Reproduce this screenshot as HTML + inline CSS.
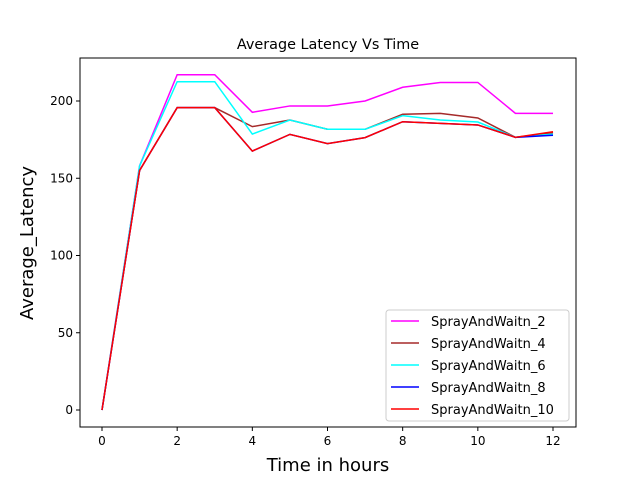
<!DOCTYPE html>
<html><head><meta charset="utf-8"><style>
body{margin:0;background:#fff;font-family:"DejaVu Sans","Liberation Sans",sans-serif}
svg{display:block}
</style></head><body>
<svg id="chart" width="640" height="480" xmlns="http://www.w3.org/2000/svg">
<text x="328" y="49" text-anchor="middle" font-size="14.4">Average Latency Vs Time</text>
<text x="328" y="471" text-anchor="middle" font-size="18">Time in hours</text>
<text transform="translate(33,243) rotate(-90)" text-anchor="middle" font-size="18">Average_Latency</text>
<g id="plot"></g>
</svg>
<script>
const hours=[0,1,2,3,4,5,6,7,8,9,10,11,12];
const sw2=[0,158,217,217,192.7,196.8,196.8,200,208.9,212,212,192,192];
const sw4=[0,155,195.7,195.7,183.4,187.7,181.7,181.7,191.4,192,189,176.5,179.5];
const sw6=[0,158,212.5,212.5,178.6,187.7,181.7,181.7,190.5,187.7,186.4,176.5,178.6];
const sw8=[0,155,195.7,195.7,167.6,178.4,172.4,176.3,186.6,185.5,184.5,176.5,177.8];
const sw10=[0,155,195.7,195.7,167.6,178.4,172.4,176.3,186.6,185.5,184.5,176.5,180.1];
const seriesNames=["SprayAndWaitn_2","SprayAndWaitn_4","SprayAndWaitn_6","SprayAndWaitn_8","SprayAndWaitn_10"];
const xTicks=[0,2,4,6,8,10,12];
const yTicks=[0,50,100,150,200];
const series=[sw2,sw4,sw6,sw8,sw10];
const colors=["#ff00ff","#a52a2a","#00ffff","#0000ff","#ff0000"];
const L=80,R=576,T=58,B=427;
const xs=v=>102+(v-0)*(553-102)/12;
const ys=v=>410-v*(410-101)/200;
const NS="http://www.w3.org/2000/svg";
const g=document.getElementById('plot');
function mk(t,a){const e=document.createElementNS(NS,t);for(const k in a)e.setAttribute(k,a[k]);g.appendChild(e);return e;}
xTicks.forEach(t=>{
 const l=mk('line',{x1:xs(t),x2:xs(t),y1:B,y2:B+4,stroke:'#000'});
 
 
 const tx=mk('text',{x:xs(t),y:B+18,'text-anchor':'middle','font-size':'12'});tx.textContent=t;
 
 
});
yTicks.forEach(t=>{
 const l=mk('line',{x1:L-4,x2:L,y1:ys(t),y2:ys(t),stroke:'#000'});
 
 
 const tx=mk('text',{x:L-7,y:ys(t)+4,'text-anchor':'end','font-size':'12'});tx.textContent=t;
 
 
});
series.forEach((s,i)=>{
 const p=mk('polyline',{points:s.map((v,j)=>xs(hours[j])+','+ys(v)).join(' '),fill:'none',stroke:colors[i],'stroke-width':1.5});
 
 
});
const fr=mk('rect',{x:L,y:T,width:R-L,height:B-T,fill:'none',stroke:'#000','stroke-width':1});


const lg=mk('rect',{x:386,y:310,width:183,height:111,rx:3,fill:'#fff',stroke:'#ccc'});


seriesNames.forEach((n,i)=>{
 const y=321+i*22;
 const l=mk('line',{x1:391,x2:419,y1:y,y2:y,stroke:colors[i],'stroke-width':1.5});
 
 
 const t=mk('text',{x:431,y:y+5,'font-size':'13'});t.textContent=n;
 
 
});
</script>
</body></html>
